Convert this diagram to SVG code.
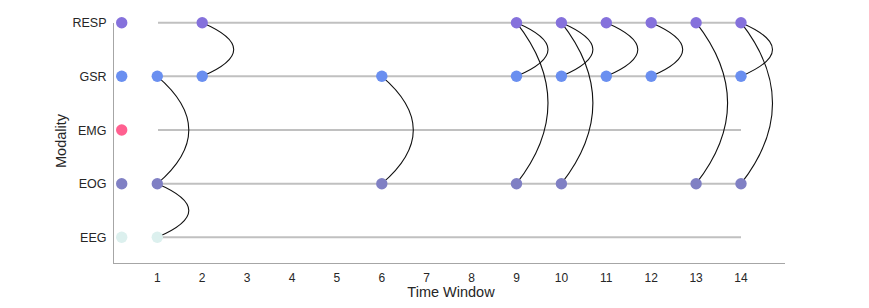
<svg xmlns="http://www.w3.org/2000/svg" width="869" height="308" viewBox="0 0 869 308">
<style>
text{font-family:"Liberation Sans",Arial,sans-serif;fill:#262626}
.rl{font-size:12.5px;text-anchor:end}
.tk{font-size:12px;text-anchor:middle}
.ax{font-size:14.5px;text-anchor:middle}
.row{stroke:#c0c0c0;stroke-width:2;fill:none}
.axis{stroke:#a6a6a6;stroke-width:1;fill:none}
.c{stroke:#111;stroke-width:1.1;fill:none}
.resp{fill:#8571dc}
.gsr{fill:#6a8ff0}
.emg{fill:#ff6090}
.eog{fill:#8080c4}
.eeg{fill:#dcf0ee}
</style>
<rect width="869" height="308" fill="#fff"/>
<g id="axes">
<line class="axis" x1="113.5" y1="23" x2="113.5" y2="263.5"/>
<line class="axis" x1="113" y1="263.5" x2="785" y2="263.5"/>
<text class="tk" x="157.3" y="282">1</text>
<text class="tk" x="202.2" y="282">2</text>
<text class="tk" x="247.1" y="282">3</text>
<text class="tk" x="292" y="282">4</text>
<text class="tk" x="336.9" y="282">5</text>
<text class="tk" x="381.8" y="282">6</text>
<text class="tk" x="426.7" y="282">7</text>
<text class="tk" x="471.6" y="282">8</text>
<text class="tk" x="516.5" y="282">9</text>
<text class="tk" x="561.4" y="282">10</text>
<text class="tk" x="606.3" y="282">11</text>
<text class="tk" x="651.2" y="282">12</text>
<text class="tk" x="696.1" y="282">13</text>
<text class="tk" x="741" y="282">14</text>
<text class="ax" x="451" y="296.5">Time Window</text>
<text class="ax" transform="translate(65.5,141) rotate(-90)">Modality</text>
<text class="rl" x="106.5" y="27.3">RESP</text>
<text class="rl" x="106.5" y="81">GSR</text>
<text class="rl" x="106.5" y="134.7">EMG</text>
<text class="rl" x="106.5" y="188.4">EOG</text>
<text class="rl" x="106.5" y="242">EEG</text>
</g>
<g id="rows">
<line class="row" x1="158" y1="22.7" x2="741" y2="22.7"/>
<line class="row" x1="158" y1="76.3" x2="741" y2="76.3"/>
<line class="row" x1="158" y1="130" x2="741" y2="130"/>
<line class="row" x1="158" y1="183.7" x2="741" y2="183.7"/>
<line class="row" x1="158" y1="237.3" x2="741" y2="237.3"/>
</g>
<g id="connectors">
<path class="c" d="M202.2 22.7 Q265.2 49.5 202.2 76.3"/>
<path class="c" d="M157.3 76.3 Q220.3 130 157.3 183.7"/>
<path class="c" d="M157.3 183.7 Q220.3 210.5 157.3 237.3"/>
<path class="c" d="M381.8 76.3 Q444.8 130 381.8 183.7"/>
<path class="c" d="M516.5 22.7 Q579.5 49.5 516.5 76.3"/>
<path class="c" d="M516.5 22.7 Q579.5 103.2 516.5 183.7"/>
<path class="c" d="M561.4 22.7 Q624.4 49.5 561.4 76.3"/>
<path class="c" d="M561.4 22.7 Q624.4 103.2 561.4 183.7"/>
<path class="c" d="M606.3 22.7 Q669.3 49.5 606.3 76.3"/>
<path class="c" d="M651.2 22.7 Q714.2 49.5 651.2 76.3"/>
<path class="c" d="M696.1 22.7 Q759.1 103.2 696.1 183.7"/>
<path class="c" d="M741 22.7 Q804 49.5 741 76.3"/>
<path class="c" d="M741 22.7 Q804 103.2 741 183.7"/>
</g>
<g id="legend">
<circle class="resp" cx="121.7" cy="22.7" r="5.7"/>
<circle class="gsr" cx="121.7" cy="76.3" r="5.7"/>
<circle class="emg" cx="121.7" cy="130" r="5.7"/>
<circle class="eog" cx="121.7" cy="183.7" r="5.7"/>
<circle class="eeg" cx="121.7" cy="237.3" r="5.7"/>
</g>
<g id="RESP">
<circle class="resp" cx="202.2" cy="22.7" r="5.7"/>
<circle class="resp" cx="516.5" cy="22.7" r="5.7"/>
<circle class="resp" cx="561.4" cy="22.7" r="5.7"/>
<circle class="resp" cx="606.3" cy="22.7" r="5.7"/>
<circle class="resp" cx="651.2" cy="22.7" r="5.7"/>
<circle class="resp" cx="696.1" cy="22.7" r="5.7"/>
<circle class="resp" cx="741" cy="22.7" r="5.7"/>
</g>
<g id="GSR">
<circle class="gsr" cx="157.3" cy="76.3" r="5.7"/>
<circle class="gsr" cx="202.2" cy="76.3" r="5.7"/>
<circle class="gsr" cx="381.8" cy="76.3" r="5.7"/>
<circle class="gsr" cx="516.5" cy="76.3" r="5.7"/>
<circle class="gsr" cx="561.4" cy="76.3" r="5.7"/>
<circle class="gsr" cx="606.3" cy="76.3" r="5.7"/>
<circle class="gsr" cx="651.2" cy="76.3" r="5.7"/>
<circle class="gsr" cx="741" cy="76.3" r="5.7"/>
</g>
<g id="EOG">
<circle class="eog" cx="157.3" cy="183.7" r="5.7"/>
<circle class="eog" cx="381.8" cy="183.7" r="5.7"/>
<circle class="eog" cx="516.5" cy="183.7" r="5.7"/>
<circle class="eog" cx="561.4" cy="183.7" r="5.7"/>
<circle class="eog" cx="696.1" cy="183.7" r="5.7"/>
<circle class="eog" cx="741" cy="183.7" r="5.7"/>
</g>
<g id="EEG">
<circle class="eeg" cx="157.3" cy="237.3" r="5.7"/>
</g>
</svg>
